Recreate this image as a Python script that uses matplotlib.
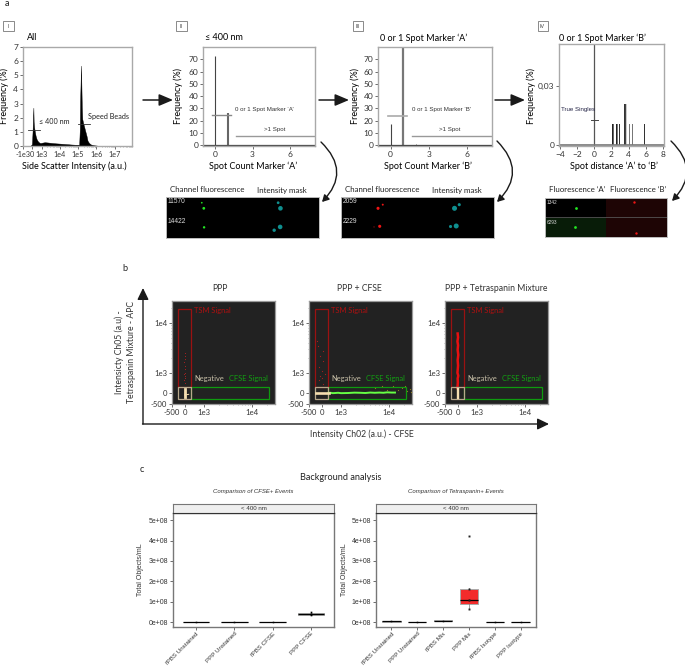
import matplotlib
matplotlib.use('Agg')
import matplotlib.pyplot as plt
import numpy as np
from matplotlib.patches import FancyArrowPatch, Rectangle

W, H = 685, 666
plt.rcParams['font.family'] = ['Lato', 'DejaVu Sans']

# panel a, side scatter histogram
ss_x = [-60, 0, 30, 50, 70, 85, 110, 150, 200, 280, 400, 550, 750, 1000, 1500, 2200, 3500, 6000, 1e4, 1.6e4,
        2.5e4, 4e4, 7e4, 1.15e5, 1.25e5, 1.3e5, 1.45e5, 1.5e5, 1.6e5, 1.7e5, 1.9e5, 2.1e5, 2.4e5, 2.9e5,
        3.3e5, 4e5, 5e5, 6.5e5, 1.1e6]
ss_freq = [0, 0.1, 1.0, 1.9, 2.7, 1.7, 1.3, 1.0, 0.7, 0.45, 0.3, 0.22, 0.18, 0.2, 0.24, 0.22, 0.19, 0.16, 0.14,
           0.12, 0.1, 0.08, 0.06, 0.06, 1.2, 3.2, 5.7, 4.7, 2.8, 1.9, 1.6, 1.4, 1.1, 0.7,
           0.35, 0.18, 0.08, 0.03, 0]
ss_ticks = [-1000, 0, 1000, 1e4, 1e5, 1e6, 1e7]
ss_labels = ['-1e3', '0', '1e3', '1e4', '1e5', '1e6', '1e7']

spot_a_x = [0, 1]
spot_a_freq = [73, 26]
spot_b_x = [0, 1, 2]
spot_b_freq = [17, 80, 1]
dist_x = [2.1, 2.2, 2.6, 2.7, 2.9, 3.0, 3.1, 3.5, 3.6, 3.7, 3.8, 4.1, 4.4, 4.5, 5.8]
dist_freq = [.0104, .0104, .0104, .0104, .0104, .0104, .0104, .0208, .0208, .0208, .0104, .0104, .0104, .0104, .0104]

# panel b, event positions
ppp_tsm_y = [300, 420, 560, 700, 850, 1000, 1200, 1400, 1650, 1900, 2200, 2500]
ppp_tsm_x = [10, -10, 20, 0, -20, 10, 0, 10, -10, 0, 10, 0]
cfse_tsm_y = [250, 400, 520, 700, 850, 1100, 1300, 1700, 2200, 2800, 3500, 4300]
cfse_tsm_x = [40, -60, 20, -30, 70, 20, -80, 40, -40, 30, -100, -130]
cfse_green_x = [180, 250, 350, 500, 700, 1000, 1400, 1900, 2500, 3200, 4000, 5000, 6200, 7500, 9000, 1.1e4, 1.3e4]
cfse_green_y = [0, 5, -5, 0, 5, -5, 0, 8, 5, 0, 10, 5, 10, 5, 15, 10, 10]
cfse_far_x = [5000, 7000, 9000, 1.2e4, 1.5e4, 1.8e4, 2.1e4, 2.3e4, 2.6e4, 2.8e4]
cfse_far_y = [120, 180, 80, 170, 70, 120, 180, 40, 90, 20]
mix_tsm_y = [120, 300, 500, 700, 1000, 1400, 1800, 2300, 2900, 3600, 4300, 5200, 6200]
mix_tsm_x = [-5, 5, 0, 15, -5, 10, 0, 15, 0, 10, -5, 10, 0]

# panel c, box plot statistics
cfse_names = ['fPBS Unstained', 'PPP Unstained', 'fPBS CFSE', 'PPP CFSE']
cfse_q1 = [0.0, 0.0, 0.0, 0.37e8]
cfse_med = [0.01e8, 0.01e8, 0.01e8, 0.42e8]
cfse_q3 = [0.02e8, 0.02e8, 0.02e8, 0.47e8]
cfse_lo = [0.0, 0.0, 0.0, 0.33e8]
cfse_hi = [0.02e8, 0.02e8, 0.02e8, 0.52e8]
tet_names = ['fPBS Unstained', 'PPP Unstained', 'fPBS Mix', 'PPP Mix', 'fPBS Isotype', 'PPP Isotype']
tet_q1 = [0.01e8, 0.0, 0.05e8, 0.9e8, 0.0, 0.0]
tet_med = [0.03e8, 0.01e8, 0.07e8, 1.07e8, 0.01e8, 0.01e8]
tet_q3 = [0.05e8, 0.02e8, 0.09e8, 1.62e8, 0.02e8, 0.02e8]
tet_lo = [0.0, 0.0, 0.05e8, 0.65e8, 0.0, 0.0]
tet_hi = [0.06e8, 0.02e8, 0.1e8, 1.65e8, 0.02e8, 0.02e8]
mix_points = [4.2e8, 1.62e8, 1.07e8, 0.65e8]
cfse_points = [0.35e8, 0.42e8, 0.5e8]

fig = plt.figure(figsize=(W / 100, H / 100), dpi=100)
arial = ['Liberation Sans']


def axes_px(x0, y0, x1, y1):
    return fig.add_axes([x0 / W, 1 - y1 / H, (x1 - x0) / W, (y1 - y0) / H])


def txt(x, y, s, size=6.5, ha='center', va='center', **kw):
    return fig.text(x / W, 1 - y / H, s, fontsize=size, ha=ha, va=va, **kw)


def arrow(x0, y0, x1, y1, head_len, head_wid, lw, rad=0):
    fig.add_artist(FancyArrowPatch((x0 / W, 1 - y0 / H), (x1 / W, 1 - y1 / H), transform=fig.transFigure,
                                   connectionstyle=f'arc3,rad={rad}',
                                   arrowstyle=f'-|>,head_length={head_len},head_width={head_wid}',
                                   mutation_scale=1, color='#1a1a1a', lw=lw, shrinkA=0, shrinkB=0))


def biex_scale(ax, which, vals, pos):
    """Piecewise scale so the odd biexponential tick spacing can be reproduced."""
    u = np.arcsinh(np.asarray(vals, dtype=float) / 200)
    pos = np.asarray(pos, dtype=float)

    def fwd(v):
        return np.interp(np.arcsinh(np.asarray(v, dtype=float) / 200), u, pos)

    def inv(p):
        return 200 * np.sinh(np.interp(p, pos, u))

    if which == 'x':
        ax.set_xscale('function', functions=(fwd, inv))
    else:
        ax.set_yscale('function', functions=(fwd, inv))


def frame(ax, color='#a9a9a9', lw=1.0):
    for s in ax.spines.values():
        s.set_color(color)
        s.set_linewidth(lw)
    ax.tick_params(length=2, width=0.6, color='#555555', labelcolor='#333333', labelsize=6, pad=1.5)


minor_decades = [m * 10 ** d for d in (3, 4, 5, 6, 7) for m in range(2, 10)]

# a-I
ax = axes_px(23, 47, 132, 146)
biex_scale(ax, 'x', [-2000, -1000, 0, 1000, 1e4, 1e5, 1e6, 1e7, 1e8], [13, 22.7, 32, 42, 61, 80, 99, 118, 137])
ax.fill_between(ss_x, ss_freq, color='black', lw=0.3)
ax.plot([-235, 620], [1.1, 1.1], color='#333333', lw=0.6)
ax.plot([1e5, 4.8e5], [1.55, 1.55], color='#333333', lw=0.6)
ax.set_xlim(-950, 5.5e7)
ax.set_ylim(-0.03, 7.03)
ax.set_xticks(ss_ticks)
ax.set_xticklabels(ss_labels)
ax.set_xticks(minor_decades, minor=True)
ax.tick_params(axis='x', which='minor', length=1, width=0.4, color='#777777')
ax.set_yticks(range(8))
frame(ax)
ax.tick_params(axis='x', which='major', labelsize=5.2)

# a-II
ax = axes_px(203, 47, 315, 146)
ax.vlines(spot_a_x[0], 0, spot_a_freq[0], color='#444444', lw=0.8)
ax.vlines(spot_a_x[1], 0, spot_a_freq[1], color='#666666', lw=1.5)
ax.plot([-0.24, 1.26], [24.5, 24.5], color='#888888', lw=1)
ax.plot([1.68, 8], [7, 7], color='#999999', lw=1)
ax.axhline(0, color='#444444', lw=0.9)
ax.set_xlim(-0.96, 8)
ax.set_ylim(-0.8, 80)
ax.set_xticks([0, 3, 6])
ax.set_yticks(range(0, 71, 10))
frame(ax)

# a-III
ax = axes_px(378, 47, 492, 146)
ax.vlines(spot_b_x[0], 0, spot_b_freq[0], color='#444444', lw=0.8)
ax.vlines(spot_b_x[1], 0, spot_b_freq[1], color='#777777', lw=1.6)
ax.vlines(spot_b_x[2], 0, spot_b_freq[2], color='#555555', lw=0.6)
ax.plot([-0.24, 1.26], [23.5, 23.5], color='#aaaaaa', lw=1.2)
ax.plot([1.68, 8], [7, 7], color='#999999', lw=1)
ax.axhline(0, color='#333333', lw=0.9)
ax.set_xlim(-1.0, 8)
ax.set_ylim(-0.8, 80)
ax.set_xticks([0, 3, 6])
ax.set_yticks(range(0, 71, 10))
frame(ax)

# a-IV
ax = axes_px(559, 44, 664, 146)
dist_colors = ['#222222', '#666666', '#222222', '#777777', '#333333', '#888888', '#444444',
               '#333333', '#444444', '#cccccc', '#666666', '#777777', '#777777', '#999999', '#333333']
ax.bar(dist_x, dist_freq, width=0.09, color=dist_colors)
ax.axvline(0, color='#555555', lw=0.9)
ax.plot([-0.4, 0.4], [0.0125, 0.0125], color='#444444', lw=0.7)
ax.axhline(0, color='#777777', lw=1.2)
ax.set_xlim(-4.1, 8.1)
ax.set_ylim(-0.0005, 0.051)
ax.set_xticks(range(-4, 9, 2))
ax.set_yticks([0, 0.03])
ax.set_yticklabels(['0', '0,03'])
frame(ax)

for x, s in [(8, 'I'), (181, 'II'), (358, 'III'), (542.5, 'IV')]:
    fig.add_artist(Rectangle(((x - 5) / W, 1 - 31 / H), 10.5 / W, 10 / H, transform=fig.transFigure,
                             fc='white', ec='#777777', lw=0.6))
    txt(x, 26, s, size=3.8, color='#444444')

txt(27, 38, 'All', ha='left')
txt(205, 38, '≤ 400 nm', ha='left')
txt(380, 38, '0 or 1 Spot Marker ‘A’', ha='left')
txt(559, 38, '0 or 1 Spot Marker ‘B’', ha='left')
for x in (4, 178, 355, 531):
    txt(x, 96, 'Frequency (%)', rotation=90)
for x, s in [(74, 'Side Scatter Intensity (a.u.)'), (253, 'Spot Count Marker ‘A’'),
             (428, 'Spot Count Marker ‘B’'), (614, 'Spot distance ‘A’ to ‘B’')]:
    txt(x, 166, s)

txt(39, 122, '≤ 400 nm', size=5.2, ha='left', color='#222222')
txt(88, 117, 'Speed Beads', size=5.2, ha='left', color='#222222')
for x, y, s in [(264, 110, '0 or 1 Spot Marker ‘A’'), (275, 130, '>1 Spot'),
                (442, 109, '0 or 1 Spot Marker ‘B’'), (450, 130, '>1 Spot')]:
    txt(x, y, s, size=4.4, family=arial, color='#333333')
txt(561, 110, 'True Singles', size=4.4, ha='left', family=arial, color='#222244')

# flow arrows between the gating steps
for x0, x1 in [(143, 173), (319, 349), (495, 525)]:
    arrow(x0, 100, x1, 100, 8.5, 3.6, 1.1)
for x0, y0, x1, y1, rad in [(321, 142, 322, 202, -0.5), (497, 141, 497, 202, -0.5), (671, 141, 672, 201, -0.5)]:
    arrow(x0, y0, x1, y1, 4.0, 2.2, 1.0, rad)

# image strips
GREEN, RED, TEAL = '#22e622', '#f01515', '#0f8f8f'
strip_cells = [
    (166, 319, [(.234, .14, GREEN, 1.5), (.247, .276, GREEN, 4), (.249, .74, GREEN, 3),
                (.733, .14, TEAL, 4), (.748, .276, TEAL, 11), (.746, .73, TEAL, 11), (.707, .81, TEAL, 6)],
     ['11570', '14422']),
    (341, 494, [(.273, .187, RED, 2), (.242, .276, RED, 5), (.253, .715, RED, 5), (.216, .73, '#771010', 1),
                (.773, .187, TEAL, 5), (.742, .276, TEAL, 13), (.716, .72, TEAL, 5), (.753, .707, TEAL, 13)],
     ['2059', '2229']),
]
for x0, x1, spots, ids in strip_cells:
    ax = axes_px(x0, 197, x1, 238)
    ax.set_facecolor('black')
    ax.scatter([s[0] for s in spots], [s[1] for s in spots], c=[s[2] for s in spots], s=[s[3] for s in spots], lw=0)
    ax.set_xlim(0, 1)
    ax.set_ylim(1, 0)
    ax.set_xticks([])
    ax.set_yticks([])
    ax.text(0.012, 0.12, ids[0], color='#dddddd', fontsize=4.8, va='center', family=arial)
    ax.text(0.012, 0.6, ids[1], color='#dddddd', fontsize=4.8, va='center', family=arial)
    frame(ax, '#bbbbbb', 0.7)

ax = axes_px(545, 198, 667, 237)
ax.set_facecolor('black')
ax.add_patch(Rectangle((0, 0.5), 0.5, 0.5, color='#081c08', lw=0))
ax.add_patch(Rectangle((0.5, 0), 0.5, 1, color='#1e0505', lw=0))
ax.axhline(0.5, color='#555555', lw=0.6)
ax.scatter([.256, .242], [.26, .75], c=GREEN, s=4, lw=0)
ax.scatter([.73, .744], [.107, .89], c=RED, s=3, lw=0)
ax.set_xlim(0, 1)
ax.set_ylim(1, 0)
ax.set_xticks([])
ax.set_yticks([])
ax.text(0.012, 0.12, '1342', color='#dddddd', fontsize=3.4, va='center', family=arial)
ax.text(0.012, 0.62, '6293', color='#dddddd', fontsize=3.4, va='center', family=arial)
frame(ax, '#bbbbbb', 0.7)

for x, s in [(207, 'Channel fluorescence'), (282, 'Intensity mask'), (382, 'Channel fluorescence'),
             (457, 'Intensity mask'), (577, 'Fluorescence ‘A’'), (638, 'Fluorescence ‘B’')]:
    txt(x, 190, s, size=5.7, color='#222222')

# panel b
b_titles = ['PPP', 'PPP + CFSE', 'PPP + Tetraspanin Mixture']
b_title_x = [220, 359, 496]
b_left = [172, 309, 445]
b_axes = []
for i, x0 in enumerate(b_left):
    ax = axes_px(x0, 301, x0 + 103, 404)
    ax.set_facecolor('#222222')
    for which in ('x', 'y'):
        pos = [-14, 0, 19.5, 68, 117] if which == 'x' else [-12, 0, 20, 69, 118]
        biex_scale(ax, which, [-600, 0, 1000, 1e4, 1e5], pos)
    ax.set_xlim(-500, 29000)
    ax.set_ylim(-500, 28000)
    ax.add_patch(Rectangle((180, -208), 21500 - 180, 358, fc='none', ec='#0f9a0f', lw=0.9, zorder=4))
    ax.add_patch(Rectangle((-200, 150), 380, 19050, fc='none', ec='#9a1212', lw=0.9, zorder=4))
    ax.add_patch(Rectangle((-200, -208), 380, 358, fc='none', ec='#b8a98c', lw=0.9, zorder=5))
    ax.set_xticks([-500, 0, 1000, 1e4])
    ax.set_xticklabels(['-500', '0', '1e3', '1e4'])
    ax.set_yticks([-500, 0, 1000, 1e4])
    ax.set_yticklabels(['-500', '0', '1e3', '1e4'])
    minor = [m * 10 ** d for d in (3, 4) for m in range(2, 10)]
    ax.set_xticks([m for m in minor if m < 29000], minor=True)
    ax.set_yticks([m for m in minor if m < 28000], minor=True)
    ax.tick_params(which='minor', length=1, width=0.4, color='#777777')
    frame(ax, '#9a9a9a', 0.9)
    ax.tick_params(axis='both', which='major', labelsize=5.6)
    txt(b_title_x[i], 289, b_titles[i], size=6.2, color='#333333')
    txt(x0 + 22, 311, 'TSM Signal', size=5.4, ha='left', color='#b01010')
    txt(x0 + 22, 379, 'Negative', size=5.4, ha='left', color='#c8c0a8')
    txt(x0 + 96, 379, 'CFSE Signal', size=5.4, ha='right', color='#12a012')
    b_axes.append(ax)

cream = '#f5deb0'
b_axes[0].plot(ppp_tsm_x, ppp_tsm_y, ls='none', marker='s', ms=0.7, mew=0, color='#a02020')
b_axes[0].plot([0, 0], [-125, 100], color=cream, lw=2, zorder=6)
b_axes[0].plot([0, 100], [-60, -40], color=cream, lw=0.7, zorder=6)
b_axes[1].plot(cfse_tsm_x, cfse_tsm_y, ls='none', marker='s', ms=0.8, mew=0, color='#a02020')
b_axes[1].plot(cfse_green_x, cfse_green_y, color='#66ff44', lw=1.4, zorder=5)
b_axes[1].plot(cfse_far_x, cfse_far_y, ls='none', marker='s', ms=0.8, mew=0, color='#8a7a20', zorder=5)
b_axes[1].plot([-150, 200], [0, 0], color=cream, lw=1.9, zorder=6)
b_axes[2].plot(mix_tsm_x, mix_tsm_y, color='#e81010', lw=1.8, zorder=3)
b_axes[2].plot([0, 0], [-150, 100], color=cream, lw=1.7, zorder=6)

arrow(143, 424, 143, 288, 7, 3.4, 1.0)
arrow(142.5, 424, 549, 424, 7, 3.4, 1.0)
txt(119, 352, 'Intensicty Ch05 (a.u) -', size=6.2, rotation=90, color='#333333')
txt(131, 352, 'Tetraspanin Mixture - APC', size=6.2, rotation=90, color='#333333')
txt(362, 434, 'Intensity Ch02 (a.u.) - CFSE', size=6.2, color='#333333')

# panel c
txt(341, 477, 'Background analysis', size=6.6, color='#222222')


def box_panel(x0, x1, names, q1, med, q3, lo, hi, colors, subtitle):
    ax = axes_px(x0, 513, x1, 627)
    stats = [dict(q1=a, med=b, q3=c, whislo=d, whishi=e, fliers=[]) for a, b, c, d, e in zip(q1, med, q3, lo, hi)]
    pos = np.arange(1, len(names) + 1)
    art = ax.bxp(stats, positions=pos, widths=0.7, patch_artist=True, showcaps=False, showfliers=False,
                 medianprops=dict(color='black', lw=0.9), whiskerprops=dict(color='#777777', lw=0.5),
                 boxprops=dict(edgecolor='#aaaaaa', lw=0.7))
    for b, c in zip(art['boxes'], colors):
        b.set_facecolor(c)
    ax.plot(pos, med, ls='none', marker='s', ms=1.1, mew=0, color='black', zorder=5)
    ax.set_xlim(0.4, len(names) + 0.6)
    ax.set_ylim(-0.24e8, 5.35e8)
    ax.set_xticks(pos)
    ax.set_xticklabels(names, rotation=45, ha='right', rotation_mode='anchor', family=arial)
    ax.set_yticks(np.arange(6) * 1e8)
    ax.set_yticklabels([f'{i}e+08' for i in range(6)], family=arial)
    frame(ax, '#777777', 1.0)
    ax.tick_params(axis='y', labelsize=5, labelcolor='#333333')
    ax.tick_params(axis='x', labelsize=4.4, labelcolor='#333333', pad=1)
    strip = axes_px(x0, 504, x1, 513)
    strip.set_facecolor('#efefef')
    strip.set_xticks([])
    strip.set_yticks([])
    for s in strip.spines.values():
        s.set_color('#777777')
    strip.spines['bottom'].set_color('#333333')
    strip.text(0.5, 0.45, '< 400 nm', transform=strip.transAxes, ha='center', va='center', fontsize=4.4,
               family=arial, color='#333333')
    txt((x0 + x1) / 2, 492, subtitle, size=4.3, style='italic', family=arial, color='#333333')
    txt(x0 - 32, 570, 'Total Objects/mL', size=5, rotation=90, family=arial, color='#333333')
    return ax


ax = box_panel(173, 334, cfse_names, cfse_q1, cfse_med, cfse_q3, cfse_lo, cfse_hi,
               ['white', 'white', 'white', '#1d6b1d'], 'Comparison of CFSE+ Events')
ax.plot([4] * len(cfse_points), cfse_points, ls='none', marker='s', ms=1.2, mew=0, color='black', zorder=5)
ax = box_panel(376, 536, tet_names, tet_q1, tet_med, tet_q3, tet_lo, tet_hi,
               ['white', 'white', '#bbbbbb', '#f32b2b', 'white', 'white'], 'Comparison of Tetraspanin+ Events')
ax.plot([4] * len(mix_points), mix_points, ls='none', marker='s', ms=1.4, mew=0, color='#222222', zorder=5)

txt(7, 3, 'a', size=6.6, color='#222222')
txt(125, 269, 'b', size=6.6, color='#222222')
txt(142, 469, 'c', size=6.6, color='#222222')

fig.savefig('out.png', dpi=100)
